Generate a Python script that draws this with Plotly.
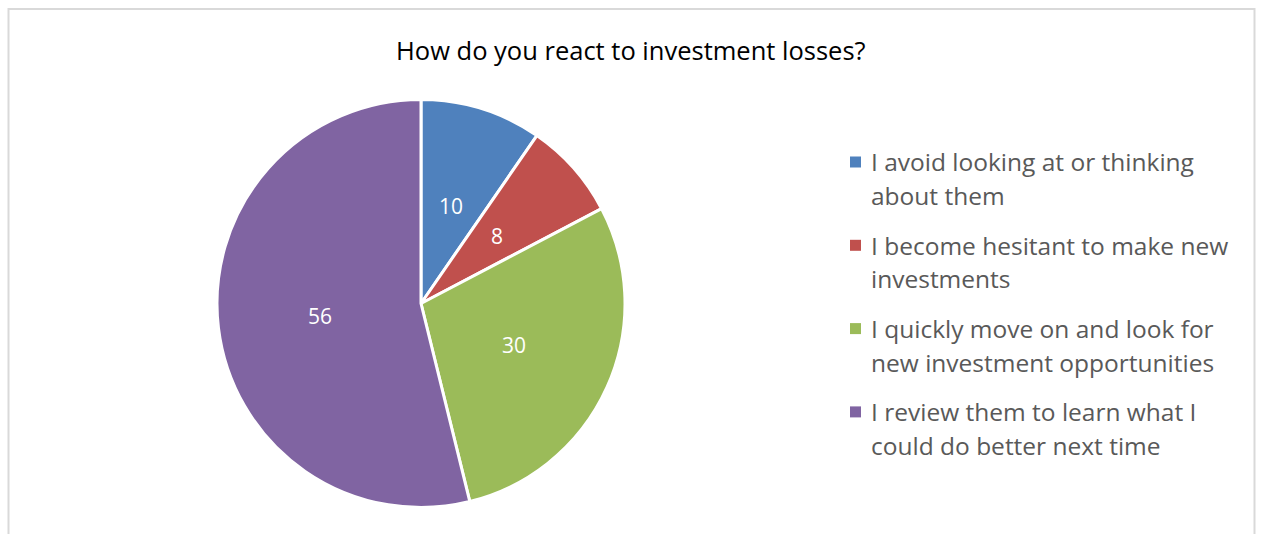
import math
import plotly.graph_objects as go

# Survey responses
answers = [
    "I avoid looking at or thinking<br>about them",
    "I become hesitant to make new<br>investments",
    "I quickly move on and look for<br>new investment opportunities",
    "I review them to learn what I<br>could do better next time",
]
counts = [10, 8, 30, 56]
colors = ["#4F81BD", "#C0504D", "#9BBB59", "#8064A2"]
title_text = "How do you react to investment losses?"

W, H = 1261, 534
FONT = "Open Sans"

# Pie placement in pixels
cx, cy, R = 421.0, 303.5, 204.0

fig = go.Figure()
fig.add_trace(go.Pie(
    labels=answers,
    values=counts,
    sort=False,
    direction="clockwise",
    rotation=0,
    marker=dict(colors=colors, line=dict(color="white", width=3)),
    textinfo="none",
    domain=dict(x=[(cx - R) / W, (cx + R) / W], y=[(H - cy - R) / H, (H - cy + R) / H]),
    showlegend=False,
    hoverinfo="label+value",
))

# Value labels at half radius on each slice's middle angle
total = sum(counts)
acc = 0.0
for v in counts:
    mid = (acc + v / 2) / total * 2 * math.pi
    acc += v
    px = cx + 0.5 * R * math.sin(mid)
    py = cy - 0.5 * R * math.cos(mid)
    fig.add_annotation(text=str(v), xref="paper", yref="paper",
                       x=px / W, y=(H - py) / H, xanchor="center", yanchor="middle",
                       showarrow=False, font=dict(family=FONT, size=21, color="white"))

# Chart frame
fig.add_shape(type="rect", xref="paper", yref="paper",
              x0=8.5 / W, x1=1254.5 / W, y0=-0.05, y1=(H - 9) / H,
              line=dict(color="#D9D9D9", width=2), fillcolor="rgba(0,0,0,0)")

# Title
fig.add_annotation(text=title_text, xref="paper", yref="paper",
                   x=631 / W, y=(H - 50) / H, xanchor="center", yanchor="middle",
                   showarrow=False, font=dict(family=FONT, size=25.5, color="#000000"))

# Legend: colour key squares and wrapped labels
item_top = 162
item_step = 83.3
line_step = 33.5
for i, (lab, col) in enumerate(zip(answers, colors)):
    yc = item_top + i * item_step
    fig.add_shape(type="rect", xref="paper", yref="paper",
                  x0=850 / W, x1=861 / W, y0=(H - yc - 5.5) / H, y1=(H - yc + 5.5) / H,
                  line=dict(width=0), fillcolor=col)
    for j, part in enumerate(lab.split("<br>")):
        fig.add_annotation(text=part, xref="paper", yref="paper",
                           x=869 / W, y=(H - yc - j * line_step) / H,
                           xanchor="left", yanchor="middle", showarrow=False,
                           font=dict(family=FONT, size=24.5, color="#595959"))

fig.update_layout(
    width=W, height=H,
    margin=dict(l=0, r=0, t=0, b=0),
    paper_bgcolor="white", plot_bgcolor="white",
)

fig.write_html("out.html")
